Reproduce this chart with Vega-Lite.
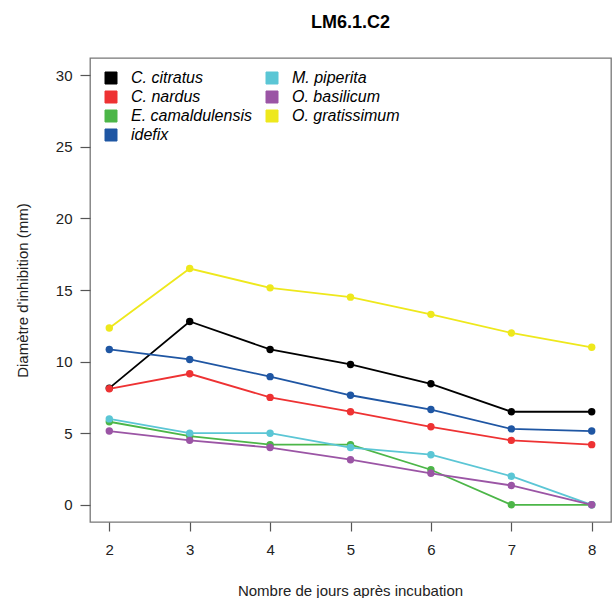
{
  "$schema": "https://vega.github.io/schema/vega-lite/v6.json",
  "autosize": {"type": "none"},
  "width": 521,
  "height": 464,
  "padding": {"left": 90, "top": 58, "right": 4, "bottom": 76},
  "background": "white",
  "title": {"text": "LM6.1.C2", "font": "Liberation Sans", "fontSize": 18, "fontWeight": "bold", "color": "#000", "anchor": "middle", "offset": 26},
  "config": {
    "view": {"stroke": "#777", "strokeWidth": 1.3},
    "font": "Liberation Sans",
    "axis": {"grid": false, "domain": false, "labelFont": "Liberation Sans", "labelFontSize": 15, "labelColor": "#222", "titleFont": "Liberation Sans", "titleFontSize": 15, "titleFontWeight": "normal", "titleColor": "#222", "tickColor": "#555", "tickWidth": 1.2}
  },
  "data": {"values": [
    {"day": 2, "s": "C. citratus", "v": 8.15},
    {"day": 3, "s": "C. citratus", "v": 12.8},
    {"day": 4, "s": "C. citratus", "v": 10.85},
    {"day": 5, "s": "C. citratus", "v": 9.8},
    {"day": 6, "s": "C. citratus", "v": 8.45},
    {"day": 7, "s": "C. citratus", "v": 6.5},
    {"day": 8, "s": "C. citratus", "v": 6.5},
    {"day": 2, "s": "C. nardus", "v": 8.1},
    {"day": 3, "s": "C. nardus", "v": 9.15},
    {"day": 4, "s": "C. nardus", "v": 7.5},
    {"day": 5, "s": "C. nardus", "v": 6.5},
    {"day": 6, "s": "C. nardus", "v": 5.45},
    {"day": 7, "s": "C. nardus", "v": 4.5},
    {"day": 8, "s": "C. nardus", "v": 4.2},
    {"day": 2, "s": "E. camaldulensis", "v": 5.8},
    {"day": 3, "s": "E. camaldulensis", "v": 4.8},
    {"day": 4, "s": "E. camaldulensis", "v": 4.2},
    {"day": 5, "s": "E. camaldulensis", "v": 4.2},
    {"day": 6, "s": "E. camaldulensis", "v": 2.45},
    {"day": 7, "s": "E. camaldulensis", "v": 0},
    {"day": 8, "s": "E. camaldulensis", "v": 0},
    {"day": 2, "s": "idefix", "v": 10.85},
    {"day": 3, "s": "idefix", "v": 10.15},
    {"day": 4, "s": "idefix", "v": 8.95},
    {"day": 5, "s": "idefix", "v": 7.65},
    {"day": 6, "s": "idefix", "v": 6.65},
    {"day": 7, "s": "idefix", "v": 5.3},
    {"day": 8, "s": "idefix", "v": 5.15},
    {"day": 2, "s": "M. piperita", "v": 6.0},
    {"day": 3, "s": "M. piperita", "v": 5.0},
    {"day": 4, "s": "M. piperita", "v": 5.0},
    {"day": 5, "s": "M. piperita", "v": 4.0},
    {"day": 6, "s": "M. piperita", "v": 3.5},
    {"day": 7, "s": "M. piperita", "v": 2.0},
    {"day": 8, "s": "M. piperita", "v": 0},
    {"day": 2, "s": "O. basilicum", "v": 5.15},
    {"day": 3, "s": "O. basilicum", "v": 4.5},
    {"day": 4, "s": "O. basilicum", "v": 4.0},
    {"day": 5, "s": "O. basilicum", "v": 3.15},
    {"day": 6, "s": "O. basilicum", "v": 2.2},
    {"day": 7, "s": "O. basilicum", "v": 1.35},
    {"day": 8, "s": "O. basilicum", "v": 0},
    {"day": 2, "s": "O. gratissimum", "v": 12.35},
    {"day": 3, "s": "O. gratissimum", "v": 16.5},
    {"day": 4, "s": "O. gratissimum", "v": 15.15},
    {"day": 5, "s": "O. gratissimum", "v": 14.5},
    {"day": 6, "s": "O. gratissimum", "v": 13.3},
    {"day": 7, "s": "O. gratissimum", "v": 12.0},
    {"day": 8, "s": "O. gratissimum", "v": 11.0}
  ]},
  "encoding": {
    "x": {"field": "day", "type": "quantitative", "scale": {"domain": [1.76, 8.24], "nice": false, "zero": false},
          "axis": {"values": [2, 3, 4, 5, 6, 7, 8], "tickSize": 9, "labelPadding": 11, "title": "Nombre de jours après incubation", "titleX": 260, "titleY": 68, "titleBaseline": "middle", "titleAlign": "center"}},
    "y": {"field": "v", "type": "quantitative", "scale": {"domain": [-1.2, 31.2], "nice": false, "zero": false},
          "axis": {"values": [0, 5, 10, 15, 20, 25, 30], "tickSize": 10, "labelPadding": 8, "title": "Diamètre d'inhibition (mm)", "titleX": -68, "titleY": 232, "titleAngle": -90, "titleBaseline": "middle", "titleAlign": "center"}},
    "color": {"field": "s", "type": "nominal",
      "scale": {"domain": ["C. citratus", "C. nardus", "E. camaldulensis", "idefix", "M. piperita", "O. basilicum", "O. gratissimum"],
                "range": ["#000000", "#EE3233", "#4CB648", "#1F56A3", "#5BC6D5", "#9B55A5", "#EEE81C"]},
      "legend": {"title": null, "orient": "none", "legendX": 13, "legendY": 12, "columns": 2, "padding": 0,
                  "symbolType": "square", "symbolSize": 144, "symbolStrokeColor": "#444", "symbolStrokeWidth": 1, "symbolOpacity": 1,
                  "labelFont": "Liberation Sans", "labelFontSize": 16, "labelFontStyle": "italic", "labelColor": "#000", "labelOffset": 12,
                  "rowPadding": 3, "columnPadding": 12, "labelLimit": 300,
                  "encode": {"symbols": {"update": {"fill": {"scale": "color", "field": "value"}, "stroke": {"value": "#444"}, "strokeWidth": {"value": 1}, "opacity": {"value": 1}, "shape": {"value": "square"}}}}}}
  },
  "layer": [
    {"mark": {"type": "line", "strokeWidth": 1.8}},
    {"mark": {"type": "point", "filled": true, "size": 55, "opacity": 1}}
  ]
}
